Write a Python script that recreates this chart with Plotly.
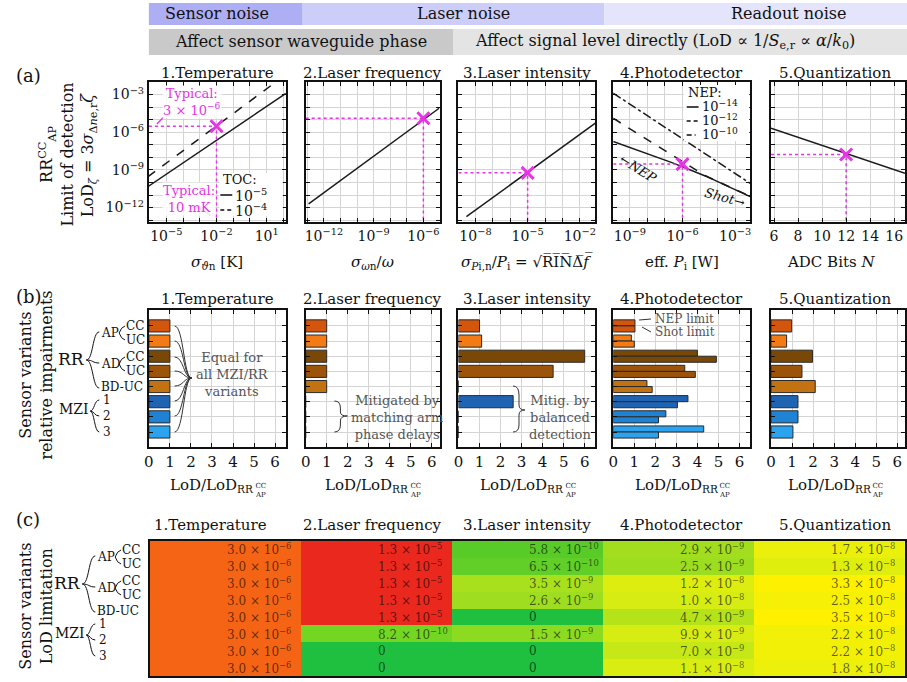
import math
import plotly.graph_objects as go

W, H = 907, 682
OFF = 0
FONT = "DejaVu Serif"
INK = "#111111"
MAG = "#e634e6"
GRID = "#d4d4d4"
NOTE = "#555555"

# ---------------- data ----------------
PANEL_TITLES = ["1.Temperature", "2.Laser frequency", "3.Laser intensity", "4.Photodetector", "5.Quantization"]
HEADER_1 = ["Sensor noise", "Laser noise", "Readout noise"]
HEADER_2 = ["Affect sensor waveguide phase",
            "Affect signal level directly (LoD ∝ 1/<i>S</i><sub>e,r</sub> ∝ <i>α</i>/<i>k</i><sub>0</sub>)"]

# (a) noise sweeps
T_SIGMA_TOC5 = [7.9e-7, 1.4e2]
T_LOD_TOC5 = [4.6e-11, 1.26e-3]
T_SIGMA_TOC4 = [7.9e-7, 3.5e1]
T_LOD_TOC4 = [2.8e-10, 1.0e-2]

F_SIGMA = [1.2e-13, 8.9e-6]
F_LOD = [2.0e-12, 8.1e-5]

I_SIGMA = [3.0e-9, 7.9e-2]
I_LOD = [1.9e-13, 5.2e-6]

PD_P_NEP14 = [1.1e-10, 3.0e-9, 2.5e-7, 2.0e-5, 7.2e-3]
PD_LOD_NEP14 = [1.8e-7, 3.4e-8, 3.8e-9, 3.3e-10, 7.4e-12]
PD_P_NEP12 = [1.1e-10, 2.0e-5, 1.0e-4, 7.2e-3]
PD_LOD_NEP12 = [1.3e-5, 3.4e-10, 1.2e-10, 8.0e-12]
PD_P_NEP10 = [1.1e-10, 7.2e-3]
PD_LOD_NEP10 = [1.3e-3, 8.5e-11]

Q_BITS = [5.75, 16.9]
Q_LOD = [2.1e-6, 5.4e-10]

TYPICAL_X = [1e-2, 1e-6, 1e-5, 1e-6, 12]
TYPICAL_LOD = [3.0e-6, 1.3e-5, 5.8e-10, 2.9e-9, 1.7e-8]

# (b) relative impairments
VARIANTS = ["AP-CC", "AP-UC", "AD-CC", "AD-UC", "BD-UC", "MZI-1", "MZI-2", "MZI-3"]
VARIANT_COLORS = ["#d4550c", "#f27b16", "#7a4806", "#9c530a", "#c27210", "#1f63b3", "#1f82d2", "#2ba3ef"]
REL_TEMP = [1, 1, 1, 1, 1, 1, 1, 1]
REL_FREQ = [1, 1, 1, 1, 1, 0, 0, 0]
REL_INT = [1.0, 1.1, 6.0, 4.5, 0, 2.6, 0, 0]
REL_PD_NEP = [1.03, 0.86, 4.0, 3.4, 1.6, 3.55, 2.5, 4.3]
REL_PD_SHOT = [1.03, 1.0, 4.9, 3.9, 1.85, 3.05, 2.15, 2.15]
REL_QUANT = [0.98, 0.74, 1.97, 1.47, 2.1, 1.28, 1.28, 1.04]

# (c) absolute LoD limitation
LOD_TEMP = [3.0e-6, 3.0e-6, 3.0e-6, 3.0e-6, 3.0e-6, 3.0e-6, 3.0e-6, 3.0e-6]
LOD_FREQ = [1.3e-5, 1.3e-5, 1.3e-5, 1.3e-5, 1.3e-5, 8.2e-10, 0, 0]
LOD_INT = [5.8e-10, 6.5e-10, 3.5e-9, 2.6e-9, 0, 1.5e-9, 0, 0]
LOD_PD = [2.9e-9, 2.5e-9, 1.2e-8, 1.0e-8, 4.7e-9, 9.9e-9, 7.0e-9, 1.1e-8]
LOD_QUANT = [1.7e-8, 1.3e-8, 3.3e-8, 2.5e-8, 3.5e-8, 2.2e-8, 2.2e-8, 1.8e-8]


# ---------------- geometry helpers ----------------
def PX(x):
    return (x - OFF) / W


def PY(y):
    return 1 - (y - OFF) / H


A_XPX = [(145, 283), (303, 438), (457, 595), (613, 751), (772, 907)]
A_YPX = (82, 222)
B_YPX = (310, 447)
C_XPX = (146, 907)
C_YPX = (541, 676)
COL_CENTERS = [214, 370, 526, 682, 836]

A_YR = [-13.15, -2.0]
A_XR = [[-6.04, 2.14], [-13.1, -5.02], [-8.98, -1.1], [-9.95, -2.14], [5.75, 16.9]]
A_XLAB = [(-6, 2, [-5, -2, 1]), (-13, -5, [-12, -9, -6]), (-8, -2, [-8, -5, -2]), (-9, -3, [-9, -6, -3])]
A_YLAB = [-12, -9, -6, -3]

annotations = []
shapes = []


def ann(text, x, y, size=15, color=INK, xa="center", ya="middle", angle=0, bg=None):
    d = dict(text=text, x=PX(x), y=PY(y), xref="paper", yref="paper", showarrow=False,
             xanchor=xa, yanchor=ya, textangle=angle,
             font=dict(family=FONT, size=size, color=color), borderpad=0)
    if bg:
        d["bgcolor"] = bg
    annotations.append(d)


def seg(x0, y0, x1, y1, color=INK, width=1.2, dash="solid"):
    shapes.append(dict(type="line", xref="paper", yref="paper", x0=PX(x0), y0=PY(y0), x1=PX(x1), y1=PY(y1),
                       line=dict(color=color, width=width, dash=dash), layer="above"))


def rect(x0, y0, x1, y1, fill, layer="below"):
    shapes.append(dict(type="rect", xref="paper", yref="paper", x0=PX(x0), y0=PY(y0), x1=PX(x1), y1=PY(y1),
                       fillcolor=fill, line=dict(width=0), layer=layer))


def path(cmds, color=INK, width=1.1):
    parts = []
    for c in cmds:
        letter, nums = c[0], c[1:]
        pts = []
        for i in range(0, len(nums), 2):
            pts.append(f"{PX(nums[i]):.5f},{PY(nums[i + 1]):.5f}")
        parts.append(letter + " " + " ".join(pts))
    shapes.append(dict(type="path", xref="paper", yref="paper", path=" ".join(parts),
                       line=dict(color=color, width=width), layer="above"))


def sup(k):
    return f"10<sup>{'−' if k < 0 else ''}{abs(k)}</sup>"


def sci(v):
    if v == 0:
        return "0"
    e = 0
    m = v
    while m >= 10:
        m /= 10
        e += 1
    while m < 1:
        m *= 10
        e -= 1
    return f"{m:.1f} × " + sup(e)


def axn(i):
    return ("x" if i == 1 else f"x{i}"), ("y" if i == 1 else f"y{i}")


def lkey(kind, i):
    return f"{kind}axis" if i == 1 else f"{kind}axis{i}"


base = dict(showline=True, linecolor=INK, linewidth=2, mirror="allticks", ticks="inside", ticklen=4,
            tickcolor=INK, tickwidth=1, showgrid=True, gridcolor=GRID, gridwidth=1, zeroline=False,
            tickfont=dict(family=FONT, size=14, color=INK))


def log_ticks(lo, hi, labs):
    major = [t for t in range(lo, hi + 1) if t in labs]
    minor = [t for t in range(lo, hi + 1) if t not in labs]
    return dict(type="log", tickvals=[10.0 ** t for t in major], ticktext=[sup(t) for t in major],
                minor=dict(tickvals=[10.0 ** t for t in minor], ticks="inside", ticklen=4, tickcolor=INK,
                           showgrid=True, gridcolor=GRID, gridwidth=1))


fig = go.Figure()
layout = {}

# ---------------- header ----------------
rect(145, 3, 300, 25, "#aeaef4")
rect(300, 3, 604, 25, "#cdcdf9")
rect(604, 3, 915, 25, "#e4e4fc")
rect(145, 29, 452, 55, "#c9c9c9")
rect(452, 29, 915, 55, "#e4e4e4")
ann(HEADER_1[0], 214, 14, size=16)
ann(HEADER_1[1], 462, 14, size=16)
ann(HEADER_1[2], 790, 14, size=16)
ann(HEADER_2[0], 298, 42, size=16)
ann(HEADER_2[1], 665, 42, size=16)

# ---------------- panel (a) ----------------
for k in range(5):
    i = k + 1
    x0, x1 = A_XPX[k]
    xa = dict(base, domain=[PX(x0), min(PX(x1), 1.0)], anchor=axn(i)[1], range=A_XR[k])
    if k < 4:
        lo, hi, labs = A_XLAB[k]
        xa.update(log_ticks(lo, hi, labs))
    else:
        xa.update(tickvals=[6, 8, 10, 12, 14, 16], ticktext=["6", "8", "10", "12", "14", "16"])
    ya = dict(base, domain=[PY(A_YPX[1]), PY(A_YPX[0])], anchor=axn(i)[0], range=A_YR,
              showticklabels=(k == 0))
    ya.update(log_ticks(-13, -3, A_YLAB))
    layout[lkey("x", i)] = xa
    layout[lkey("y", i)] = ya
    ann(PANEL_TITLES[k], COL_CENTERS[k], 73, size=15)


def line_tr(i, x, y, dash="solid", width=1.5):
    xr, yr = axn(i)
    fig.add_trace(go.Scatter(x=x, y=y, xaxis=xr, yaxis=yr, mode="lines",
                             line=dict(color="#1a1a1a", width=width, dash=dash), showlegend=False,
                             hoverinfo="skip"))


line_tr(1, T_SIGMA_TOC5, T_LOD_TOC5)
line_tr(1, T_SIGMA_TOC4, T_LOD_TOC4, dash="dash")
line_tr(2, F_SIGMA, F_LOD)
line_tr(3, I_SIGMA, I_LOD)
line_tr(4, PD_P_NEP10, PD_LOD_NEP10, dash="dashdot")
line_tr(4, PD_P_NEP12, PD_LOD_NEP12, dash="dash")
line_tr(4, PD_P_NEP14, PD_LOD_NEP14)
line_tr(5, Q_BITS, Q_LOD)

for k in range(5):
    i = k + 1
    xr, yr = axn(i)
    xl = 10 ** A_XR[k][0] if k < 4 else A_XR[k][0]
    yb = 10 ** A_YR[0]
    mx, my = TYPICAL_X[k], TYPICAL_LOD[k]
    fig.add_trace(go.Scatter(x=[xl, mx, mx], y=[my, my, yb], xaxis=xr, yaxis=yr, mode="lines",
                             line=dict(color=MAG, width=1.5, dash="dot"), showlegend=False, hoverinfo="skip"))
    fig.add_trace(go.Scatter(x=[mx], y=[my], xaxis=xr, yaxis=yr, mode="markers",
                             marker=dict(symbol="x-thin", size=12, line=dict(color=MAG, width=3)),
                             showlegend=False, hoverinfo="skip"))

# (a) axis titles
A_XTITLES = ["<i>σ</i><sub><i>ϑ</i>n</sub> [K]", "<i>σ</i><sub><i>ω</i>n</sub>/<i>ω</i>",
             "<i>σ</i><sub><i>P</i>i,n</sub>/<i>P</i><sub>i</sub> = √R̅I̅N̅Δ̅<i>f̅</i>",
             "eff. <i>P</i><sub>i</sub> [W]", "ADC Bits <i>N</i>"]
for k in range(5):
    ann(A_XTITLES[k], [214, 370, 526, 682, 832][k], 262, size=15)

ann("(a)", 10, 75, size=18, xa="left")
ann("RR<sup>CC</sup><sub>AP</sub><br>Limit of detection", 52, 155, size=16, angle=-90)
ann("LoD<sub><i>ζ</i></sub> = 3<i>σ</i><sub>Δ<i>n</i>e,r</sub><i>ζ</i>", 84, 155, size=16, angle=-90)

# plot-1 notes
ann("Typical:<br>3 × 10<sup>−6</sup>", 158, 102, size=13, color=MAG, xa="left", bg="rgba(255,255,255,0.85)")
seg(153, 124, 160, 117, MAG, 1.4)
ann("Typical:<br>10 mK", 158, 199, size=13, color=MAG, xa="left", bg="rgba(255,255,255,0.85)")
seg(192, 206, 207, 215, MAG, 1.6)
rect(216, 173, 280, 216, "white", layer="above")
ann("TOC:", 219, 179, size=13, xa="left")
seg(217, 195, 229, 195, "#1a1a1a", 1.6)
seg(217, 210, 221, 210, "#1a1a1a", 1.6)
seg(224, 210, 228, 210, "#1a1a1a", 1.6)
ann(sup(-5), 231, 195, size=14, xa="left")
ann(sup(-4), 231, 210, size=14, xa="left")

# plot-4 notes
rect(684, 85, 750, 141, "white", layer="above")
ann("NEP:", 687, 92, size=13, xa="left")
seg(687, 107, 699, 107, "#1a1a1a", 1.6)
seg(687, 121, 691, 121, "#1a1a1a", 1.6)
seg(694, 121, 698, 121, "#1a1a1a", 1.6)
seg(687, 135, 692, 135, "#1a1a1a", 1.6)
seg(695, 135, 696, 135, "#1a1a1a", 1.6)
ann(sup(-14), 701, 106, size=13, xa="left")
ann(sup(-12), 701, 120, size=13, xa="left")
ann(sup(-10), 701, 134, size=13, xa="left")
ann("←<i>NEP</i>", 638, 168, size=13, angle=32)
ann("<i>Shot</i>→", 725, 198, size=13, angle=15)

# ---------------- panel (b) ----------------
B_SERIES = [REL_TEMP, REL_FREQ, REL_INT, None, REL_QUANT]
for k in range(5):
    i = k + 6
    x0, x1 = A_XPX[k]
    xr, yr = axn(i)
    span = (x1 - x0) / 21.2
    layout[lkey("x", i)] = dict(base, domain=[PX(x0), min(PX(x1), 1.0)], anchor=yr, range=[0, span],
                                tickvals=[0, 1, 2, 3, 4, 5, 6], tickfont=dict(family=FONT, size=15, color=INK))
    layout[lkey("y", i)] = dict(base, domain=[PY(B_YPX[1]), PY(B_YPX[0])], anchor=xr, type="category",
                                categoryorder="array", categoryarray=VARIANTS, range=[7.99, -1.05],
                                showticklabels=False)
    if B_SERIES[k] is not None:
        fig.add_trace(go.Bar(x=B_SERIES[k], y=VARIANTS, orientation="h", xaxis=xr, yaxis=yr,
                             marker=dict(color=VARIANT_COLORS, line=dict(color="#2a2a2a", width=1)),
                             showlegend=False, hoverinfo="skip"))
    else:
        fig.add_trace(go.Bar(x=REL_PD_NEP, y=VARIANTS, orientation="h", xaxis=xr, yaxis=yr,
                             offsetgroup="nep",
                             marker=dict(color=VARIANT_COLORS, line=dict(color="#2a2a2a", width=1)),
                             showlegend=False, hoverinfo="skip"))
        fig.add_trace(go.Bar(x=REL_PD_SHOT, y=VARIANTS, orientation="h", xaxis=xr, yaxis=yr,
                             offsetgroup="shot",
                             marker=dict(color=VARIANT_COLORS, line=dict(color="#2a2a2a", width=1)),
                             showlegend=False, hoverinfo="skip"))
    ann(PANEL_TITLES[k], COL_CENTERS[k], 299, size=15)
    cx = [214, 370, 526, 682, 836][k]
    ann("LoD/LoD<sub>RR</sub>", cx - 5, 485, size=15)
    ann("CC<br>AP", cx + 37, 490, size=7, xa="left")

ann("(b)", 10, 296, size=18, xa="left")
ann("Sensor variants<br>relative impairments", 31, 375, size=16, angle=-90)

# brace notes in (b)
BAR_Y = [326, 341, 357, 371, 386, 401, 416, 432]
for yv in BAR_Y:
    path([("M", 171, yv), ("C", 180, yv, 180, 378, 188, 378)], color="#333", width=1)
ann("Equal for<br>all MZI/RR<br>variants", 191, 375, size=13, color=NOTE, xa="left")

path([("M", 332, 401), ("Q", 338, 401, 338, 408), ("L", 338, 412), ("Q", 338, 416, 345, 416),
      ("Q", 338, 416, 338, 421), ("L", 338, 425), ("Q", 338, 432, 332, 432)], color="#333", width=1)
ann("Mitigated by<br>matching arm<br>phase delays", 348, 417, size=13, color=NOTE, xa="left")

path([("M", 512, 386), ("Q", 518, 386, 518, 395), ("L", 518, 405), ("Q", 518, 410, 524, 410),
      ("Q", 518, 410, 518, 415), ("L", 518, 425), ("Q", 518, 432, 512, 432)], color="#333", width=1)
ann("Mitig. by<br>balanced<br>detection", 527, 417, size=13, color=NOTE, xa="left")

seg(639, 320, 651, 319, "#333", 1)
seg(642, 327, 651, 332, "#333", 1)
ann("NEP limit", 654, 319, size=12, color=NOTE, xa="left")
ann("Shot limit", 654, 332, size=12, color=NOTE, xa="left")


# variant labels (b) and (c)
def variant_labels(dx, dy):
    ann("RR", 67 + dx, 359 + dy, size=17)
    tip = (82 + dx, 360 + dy)
    for ty in (332, 363, 388):
        path([("M", tip[0], tip[1]), ("C", tip[0] + 7, tip[1], tip[0] + 6, ty + dy, 95 + dx, ty + dy)], width=1)
    ann("AP", 96 + dx, 333 + dy, size=12, xa="left")
    ann("AD", 96 + dx, 364 + dy, size=12, xa="left")
    ann("BD-UC", 96 + dx, 387 + dy, size=12, xa="left")
    for ty, (c1, c2) in ((333, (326, 340)), (364, (357, 371))):
        path([("M", 121 + dx, c1 + dy), ("Q", 117 + dx, c1 + 1 + dy, 115 + dx, ty + dy),
              ("Q", 117 + dx, c2 - 1 + dy, 121 + dx, c2 + dy)], width=1)
        ann("CC", 121 + dx, c1 + dy, size=12, xa="left")
        ann("UC", 121 + dx, c2 + dy, size=12, xa="left")
    ann("MZI", 70 + dx, 409 + dy, size=14)
    for ty in (400, 416, 432):
        path([("M", 86 + dx, 411 + dy), ("C", 90 + dx, 411 + dy, 90 + dx, ty + dy, 95 + dx, ty + dy)], width=1)
    for n, ty in zip(("1", "2", "3"), (400, 416, 432)):
        ann(n, 103 + dx, ty + dy, size=12)


variant_labels(0, 0)
variant_labels(-4, 224)

# ---------------- panel (c) ----------------
COLS = [LOD_TEMP, LOD_FREQ, LOD_INT, LOD_PD, LOD_QUANT]

zgrid = []
for r in range(8):
    row = []
    for c in range(5):
        v = COLS[c][r]
        row.append(math.log10(v) if v > 0 else -10.0)
    zgrid.append(row)

cscale = [[0.0, "#1fbf3f"], [0.137, "#4cc72c"], [0.186, "#7ad822"], [0.274, "#9ddd1f"],
          [0.333, "#b6e41a"], [0.391, "#d6ec12"], [0.44, "#ecf00a"], [0.499, "#fff000"],
          [0.877, "#f46414"], [1.0, "#ea281e"]]
fig.add_trace(go.Heatmap(z=zgrid, x=list(range(5)), y=list(range(8)), xaxis="x11", yaxis="y11",
                         colorscale=cscale, zmin=-10, zmax=-4.89, showscale=False, hoverinfo="skip"))
layout["xaxis11"] = dict(domain=[PX(C_XPX[0]), min(PX(C_XPX[1]), 1.0)], anchor="y11", range=[-0.5, 4.5],
                         showline=True, linecolor=INK, linewidth=1.5, mirror=True, ticks="",
                         showticklabels=False, showgrid=False, zeroline=False)
layout["yaxis11"] = dict(domain=[PY(C_YPX[1]), PY(C_YPX[0])], anchor="x11", range=[7.5, -0.5],
                         showline=True, linecolor=INK, linewidth=1.5, mirror=True, ticks="",
                         showticklabels=False, showgrid=False, zeroline=False)
for c in range(5):
    for r in range(8):
        annotations.append(dict(text=sci(COLS[c][r]), x=c, y=r, xref="x11", yref="y11", showarrow=False,
                                xanchor="left", yanchor="middle",
                                font=dict(family=FONT, size=12, color="rgba(0,0,0,0.6)")))
    ann(PANEL_TITLES[c], COL_CENTERS[c] - (7 if c == 0 else 0), 525, size=15)

ann("(c)", 10, 519, size=18, xa="left")
ann("Sensor variants<br>LoD limitation", 31, 606, size=16, angle=-90)

fig.update_layout(width=W, height=H, margin=dict(l=0, r=0, t=0, b=0), paper_bgcolor="white",
                  plot_bgcolor="white", showlegend=False, bargap=0.2, bargroupgap=0.0, barmode="group",
                  font=dict(family=FONT, color=INK), annotations=annotations, shapes=shapes, **layout)
fig.write_html("out.html", config={"displayModeBar": False},
               post_script="document.body.style.margin='0px';")
